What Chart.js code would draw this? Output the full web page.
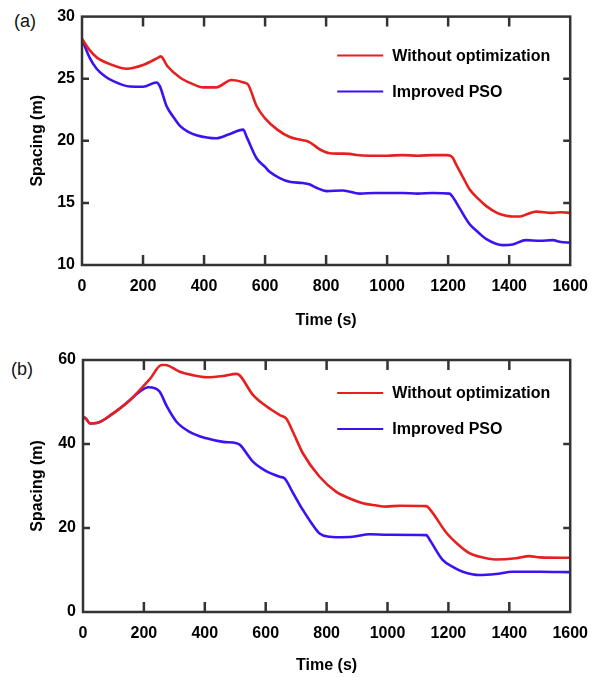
<!DOCTYPE html>
<html>
<head>
<meta charset="utf-8">
<script src="https://cdn.jsdelivr.net/npm/chart.js@4.4.0/dist/chart.umd.min.js"></script>
<style>
  body { margin: 0; background: #fff; width: 600px; height: 677px; position: relative; overflow: hidden; }
  canvas { position: absolute; left: 0; }
  .tag { position: absolute; font: 18px "Liberation Sans", Arial, sans-serif; color: #111; }
</style>
</head>
<body>
<div class="tag" style="left:14px; top:11px;">(a)</div>
<div class="tag" style="left:11px; top:359px;">(b)</div>
<canvas id="chartA" width="600" height="338" style="top:0"></canvas>
<canvas id="chartB" width="600" height="339" style="top:338px"></canvas>
<script>
// series names
const seriesNames = ["Without optimization", "Improved PSO"];

// (a)
const timeRedA = [0, 25, 49, 100, 146, 200, 250, 258, 280, 321, 360, 397, 440, 490, 530, 545, 572, 600, 640, 681, 724, 745, 780, 812, 877, 900, 942, 1000, 1051, 1100, 1150, 1195, 1213, 1226, 1250, 1270, 1300, 1324, 1360, 1390, 1433, 1460, 1488, 1540, 1570, 1600];
const redA = [28.2, 27.3, 26.7, 26.1, 25.8, 26.1, 26.7, 26.8, 26.0, 25.1, 24.6, 24.3, 24.3, 24.9, 24.7, 24.5, 22.8, 21.8, 20.9, 20.3, 20.05, 19.9, 19.3, 19.0, 18.95, 18.85, 18.8, 18.8, 18.85, 18.8, 18.85, 18.85, 18.7, 18.1, 17.0, 16.1, 15.3, 14.76, 14.2, 13.97, 13.9, 14.1, 14.3, 14.2, 14.25, 14.2];
const timeBlueA = [0, 25, 48, 75, 103, 157, 200, 244, 255, 277, 300, 321, 350, 375, 441, 480, 528, 540, 572, 600, 615, 648, 680, 724, 745, 770, 801, 855, 910, 960, 1051, 1100, 1150, 1204, 1220, 1237, 1270, 1300, 1324, 1379, 1411, 1455, 1500, 1543, 1570, 1600];
const blueA = [28.2, 26.7, 25.8, 25.2, 24.8, 24.37, 24.35, 24.7, 24.4, 22.8, 21.9, 21.2, 20.7, 20.45, 20.2, 20.5, 20.9, 20.3, 18.6, 17.9, 17.5, 17.0, 16.7, 16.6, 16.5, 16.2, 15.95, 16.0, 15.75, 15.8, 15.8, 15.75, 15.8, 15.75, 15.3, 14.6, 13.3, 12.6, 12.1, 11.6, 11.65, 12.0, 11.95, 12.0, 11.85, 11.8];

// (b)
const timeRedB = [0, 10, 23, 45, 99, 150, 187, 220, 258, 270, 318, 360, 406, 460, 504, 515, 558, 600, 646, 668, 690, 722, 777, 832, 880, 919, 960, 996, 1040, 1127, 1140, 1192, 1230, 1269, 1300, 1356, 1422, 1466, 1500, 1600];
const redB = [46.5, 46.0, 44.9, 45.0, 47.3, 50.2, 52.9, 55.5, 58.8, 58.8, 57.2, 56.4, 55.9, 56.2, 56.7, 56.3, 51.7, 49.1, 46.9, 46.0, 42.8, 37.8, 32.2, 28.6, 26.9, 25.9, 25.4, 25.1, 25.3, 25.2, 24.4, 19.0, 16.2, 14.0, 13.2, 12.5, 12.8, 13.3, 13.0, 12.9];
const timeBlueB = [0, 10, 23, 45, 99, 150, 187, 214, 235, 252, 275, 307, 350, 406, 460, 504, 515, 558, 600, 646, 662, 690, 722, 750, 777, 810, 832, 886, 941, 1000, 1127, 1140, 1181, 1220, 1247, 1302, 1356, 1411, 1500, 1597];
const blueB = [46.5, 46.0, 44.9, 45.0, 47.3, 50.2, 52.5, 53.5, 53.3, 52.45, 49.0, 45.3, 42.9, 41.35, 40.5, 40.2, 39.8, 35.8, 33.6, 32.2, 31.8, 28.3, 24.3, 21.2, 18.7, 17.9, 17.8, 17.9, 18.5, 18.4, 18.3, 17.0, 12.4, 10.5, 9.6, 8.8, 9.05, 9.6, 9.6, 9.5];

const RED = "#e6201f";
const BLUE = "#3d12f2";
const FRAME = "#333333";
const tickFont = { family: "'Liberation Sans', Arial, sans-serif", size: 16, weight: "bold" };

function toPoints(ts, vs) {
    return ts.map((t, i) => ({ x: t, y: vs[i] }));
}

// frame + inward tick marks on all four sides
const framePlugin = {
    id: "frame",
    afterDatasetsDraw(chart) {
        const { ctx, chartArea: a, scales } = chart;
        ctx.save();
        ctx.strokeStyle = FRAME;
        ctx.lineWidth = 2.5;
        ctx.strokeRect(a.left, a.top, a.right - a.left, a.bottom - a.top);
        ctx.beginPath();
        scales.x.ticks.forEach(t => {
            const px = scales.x.getPixelForValue(t.value);
            if (px <= a.left + 2 || px >= a.right - 2) return;
            ctx.moveTo(px, a.bottom); ctx.lineTo(px, a.bottom - 10);
            ctx.moveTo(px, a.top); ctx.lineTo(px, a.top + 10);
        });
        scales.y.ticks.forEach(t => {
            const py = scales.y.getPixelForValue(t.value);
            if (py <= a.top + 2 || py >= a.bottom - 2) return;
            ctx.moveTo(a.left, py); ctx.lineTo(a.left + 7, py);
            ctx.moveTo(a.right, py); ctx.lineTo(a.right - 7, py);
        });
        ctx.stroke();
        ctx.restore();
    }
};

// legend drawn inside the plot, top right
const insideLegend = {
    id: "insideLegend",
    afterDraw(chart, args, opts) {
        const { ctx, chartArea: a } = chart;
        ctx.save();
        ctx.font = "bold 16px 'Liberation Sans', Arial, sans-serif";
        ctx.textBaseline = "middle";
        ctx.fillStyle = "#000";
        chart.data.datasets.forEach((ds, i) => {
            const y = a.top + opts.top + i * 36;
            ctx.strokeStyle = ds.borderColor;
            ctx.lineWidth = 2;
            ctx.beginPath();
            ctx.moveTo(a.right - opts.lineStart, y);
            ctx.lineTo(a.right - opts.lineStart + 46, y);
            ctx.stroke();
            ctx.fillText(ds.label, a.right - opts.lineStart + 55, y + 1);
        });
        ctx.restore();
    }
};

function makeChart(id, red, blue, yMin, yMax, yStep, layout) {
    new Chart(document.getElementById(id), {
        type: "line",
        data: {
            datasets: [
                { label: seriesNames[0], data: red, borderColor: RED, borderWidth: 2.6 },
                { label: seriesNames[1], data: blue, borderColor: BLUE, borderWidth: 2.6 }
            ]
        },
        options: {
            responsive: false,
            animation: false,
            devicePixelRatio: 1,
            elements: { point: { radius: 0 }, line: { cubicInterpolationMode: "monotone" } },
            layout: { padding: { left: 0, right: 28, top: layout.top, bottom: 0 } },
            plugins: {
                legend: { display: false },
                tooltip: { enabled: false },
                insideLegend: { top: layout.legendTop, lineStart: 233 }
            },
            scales: {
                x: {
                    type: "linear", min: 0, max: 1600,
                    grid: { display: false, drawTicks: false },
                    border: { display: false },
                    ticks: { stepSize: 200, color: "#000", font: tickFont, padding: 12, maxRotation: 0,
                             callback: v => String(v) },
                    title: { display: true, text: "Time (s)", color: "#000", font: tickFont, padding: { top: 0, bottom: layout.titleBottom } },
                    afterFit: s => { s.height = layout.xHeight; }
                },
                y: {
                    min: yMin, max: yMax,
                    grid: { display: false, drawTicks: false },
                    border: { display: false },
                    ticks: { stepSize: yStep, color: "#000", font: tickFont, padding: 7,
                             callback: v => String(v) },
                    title: { display: true, text: "Spacing (m)", color: "#000", font: tickFont, padding: { top: 28, bottom: 0 } },
                    afterFit: s => { s.width = layout.yWidth; }
                }
            }
        },
        plugins: [framePlugin, insideLegend]
    });
}

makeChart("chartA", toPoints(timeRedA, redA), toPoints(timeBlueA, blueA), 10, 30, 5,
    { top: 13, xHeight: 73, yWidth: 82, titleBottom: 8, legendTop: 39 });
makeChart("chartB", toPoints(timeRedB, redB), toPoints(timeBlueB, blueB), 0, 60, 20,
    { top: 22, xHeight: 65, yWidth: 83, titleBottom: 2, legendTop: 33 });
</script>
</body>
</html>
